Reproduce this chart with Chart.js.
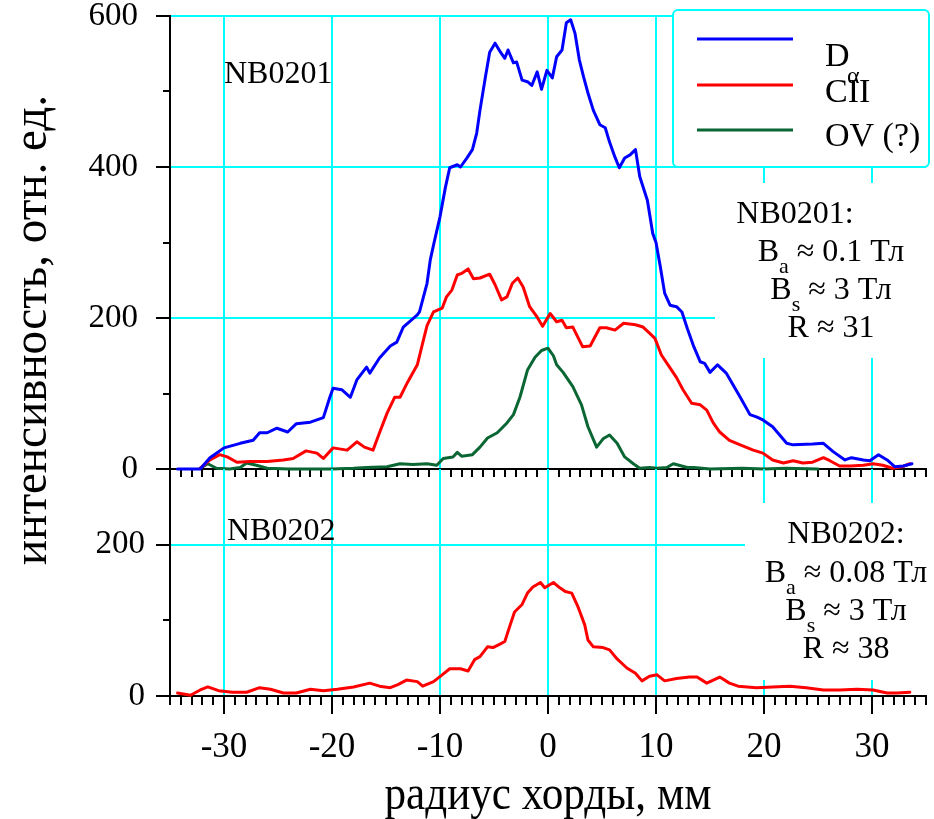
<!DOCTYPE html>
<html>
<head>
<meta charset="utf-8">
<script src="https://cdn.jsdelivr.net/npm/chart.js@4/dist/chart.umd.min.js"></script>
<style>
    html, body { margin: 0; padding: 0; background: #fff; }
    #wrap { position: relative; width: 934px; height: 819px; }
    #wrap canvas { position: absolute; left: 0; top: 0; }
</style>
</head>
<body>
<div id="wrap">
    <canvas id="topChart" width="934" height="819"></canvas>
    <canvas id="botChart" width="934" height="819"></canvas>
</div>
<script>
// ---- data (x: mm, y: rel. units) ----
// NB0201, D-alpha
const dAlphaX = [-34.3,-33,-32.2,-31.3,-30,-28.5,-27.3,-26.7,-26,-25.1,-24.1,-23.3,-22,-20.8,-20.2,-19.9,-19.1,-18.3,-17.7,-16.8,
    -16.5,-15.6,-14.6,-14,-13.4,-12.1,-11.9,-11.2,-10.9,-10.5,-10,-9.5,-9.1,-8.4,-8.1,-7.5,-7,-6.6,-6.3,-5.8,
    -5.4,-4.9,-4.4,-4,-3.7,-3.2,-2.9,-2.4,-1.9,-1.5,-1,-0.6,-0.1,0.4,0.8,1.3,1.7,2.1,2.5,2.9,
    3.3,3.7,4.2,4.8,5.3,5.7,6.2,6.6,7.1,7.6,8.1,8.5,9.2,9.7,10,10.4,10.8,11.3,11.9,12.4,
    12.9,13.5,14.1,14.5,15,15.7,16.5,17.8,18.7,19.3,19.9,20.8,22.1,22.7,24.5,25.5,26.4,27.5,28.1,29.2,
    29.8,30.6,31.4,32.1,32.9,33.7];
const dAlphaY = [0,0,0,15,28,34,38,48,48,54,49,60,62,68,95,107,105,95,118,135,
    127,147,163,168,188,204,208,246,277,303,334,373,399,403,400,412,423,445,475,519,
    552,564,552,544,555,538,539,515,513,508,526,503,528,518,546,555,591,595,577,542,
    519,498,475,456,452,433,413,399,412,416,423,387,356,312,300,268,233,217,215,208,
    186,162,142,140,128,138,127,95,72,69,65,56,34,32,33,34,23,12,15,12,
    11,19,12,3,4,7];

// NB0201, CII
const ciiX = [-32.2,-31.3,-30.4,-29.7,-28.8,-27.6,-26,-24.5,-23.6,-22.4,-21.4,-20.8,-19.9,-18.6,-17.7,-17,-16.2,-15.6,-14.9,-14.2,
    -13.7,-13,-12.1,-11.6,-11.2,-10.6,-9.8,-9.4,-8.9,-8.4,-8,-7.4,-6.9,-6.3,-5.4,-4.9,-4.3,-3.8,-3.3,-2.8,
    -2.3,-1.7,-1,-0.5,0.2,0.8,1.3,1.7,2.3,3.2,3.9,4.8,5.4,6.2,7,8.1,8.8,9.4,9.9,10.5,
    11.3,11.9,12.5,13.3,14.1,14.7,15.3,15.9,16.8,17.8,19,19.9,20.8,21.8,22.7,23.6,24.5,25.5,26.1,27,
    28,29.2,30.1,31,31.9,32.8,33.5];
const ciiY = [1,12,19,16,9,10,10,12,14,24,21,14,28,25,36,29,25,48,74,95,
    95,115,138,167,190,208,213,228,237,257,259,265,252,253,258,244,224,228,246,253,
    241,215,201,189,206,195,197,187,188,162,163,187,187,184,193,191,188,180,173,151,
    134,121,105,87,85,78,61,49,38,32,25,21,12,8,11,8,9,15,11,4,
    4,5,7,5,1,3,7];

// NB0201, OV (?)
const ovX = [-32.2,-31.5,-30.7,-29.5,-28.5,-27.9,-27,-26,-24,-20,-18,-16.8,-14.9,-13.7,-12.5,-11.2,-10.3,-9.7,-8.8,-8.4,
    -8,-7,-6.3,-5.6,-4.7,-3.8,-3.2,-2.6,-1.9,-1.2,-0.6,0,0.5,0.8,1.4,2.3,3.1,3.7,4.5,5.1,
    5.7,6.4,7.1,7.9,8.5,9.4,10.1,11,11.6,12.9,13.5,15,18,20,22,25];
const ovY = [1,7,1,0,2,8,5,1,0,0,1,2,3,7,6,7,5,14,16,22,
    17,19,29,41,48,61,72,95,131,148,157,160,150,138,128,109,85,56,29,40,
    45,34,16,7,1,2,1,2,7,2,2,0,1,0,1,0];

// NB0202, CII
const cii2X = [-34.3,-33.1,-32.2,-31.5,-30.5,-29.2,-27.9,-26.7,-25.7,-24.5,-23.3,-22,-20.8,-19.5,-18,-16.5,-15.6,-14.6,-13.9,-13.1,
    -12.1,-11.6,-10.6,-9.8,-9.1,-8.1,-7.4,-6.8,-6.3,-5.6,-5.1,-4.4,-4,-3.5,-3.1,-2.4,-1.9,-1.4,-0.7,-0.3,
    0.5,1.1,1.6,2.2,2.8,3.4,3.7,4.2,5.1,5.7,6.4,7.3,8.1,8.7,9.4,10.1,10.8,11.9,13.1,13.8,
    14.7,15.9,16.8,17.6,19.3,20.8,22.4,23.9,25.5,27,28.6,30.1,31.4,32.3,33.5];
const cii2Y = [4,1,8,12,7,5,5,11,9,4,4,9,7,9,12,17,13,11,15,21,
    19,13,19,28,36,36,33,48,52,65,64,69,72,94,111,121,136,144,150,143,
    150,143,138,136,117,94,74,65,64,61,49,37,30,20,26,28,20,23,25,25,
    17,25,17,13,11,12,13,11,8,8,9,8,4,4,5];

const xTickLabels = [-30, -20, -10, 0, 10, 20, 30];
const topYTickLabels = [0, 200, 400, 600];
const botYTickLabels = [0, 200];

const seriesNames = ['D', 'CII', 'OV (?)'];
const seriesSubs = ['α', '', ''];
const seriesColors = ['#0000ff', '#ff0000', '#0a6633'];

const xTitle = 'радиус хорды, мм';
const yTitle = 'интенсивность, отн. ед.';

const GRID = '#00ffff';
const NONE = 'rgba(0,0,0,0)';
const SERIF = "'Liberation Serif', 'Times New Roman', serif";

function pts(xs, ys) { return xs.map((x, i) => ({ x: x, y: ys[i] })); }

function lineSet(label, xs, ys, color) {
    return { label: label, data: pts(xs, ys), borderColor: color, borderWidth: 3,
             borderJoinStyle: 'round', borderCapStyle: 'round',
             pointRadius: 0, tension: 0, fill: false, clip: 4 };
}

function xScale(showLabels, tickLen, height) {
    return {
        type: 'linear', min: -35, max: 35,
        // fixed axis height; no side padding from tick labels
        afterFit: s => { s.height = height; s.paddingLeft = 0; s.paddingRight = 0; },
        ticks: {
            stepSize: 1, autoSkip: false, maxRotation: 0, minRotation: 0,
            color: '#000', padding: 22, font: { family: SERIF, size: 35 },
            callback: v => (showLabels && xTickLabels.includes(v)) ? String(v) : ''
        },
        grid: {
            color: c => xTickLabels.includes(c.tick.value) ? GRID : NONE,
            lineWidth: 2, tickColor: '#000', tickWidth: 2, tickLength: tickLen
        },
        border: { color: '#000', width: 2 }
    };
}

function yScale(max, labels, pad) {
    return {
        min: 0, max: max,
        // fixed axis width; no extra vertical padding from the label font
        afterFit: s => { s.width = 170; s.paddingTop = 0; s.paddingBottom = 0; },
        ticks: {
            stepSize: 100, color: '#000', padding: pad,
            font: { family: SERIF, size: 33, lineHeight: 0.9 },
            callback: v => labels.includes(v) ? String(v) : ''
        },
        grid: {
            color: c => (c.tick.value > 0 && labels.includes(c.tick.value)) ? GRID : NONE,
            lineWidth: 2, tickColor: '#000', tickWidth: 2, tickLength: 7
        },
        border: { color: '#000', width: 2 }
    };
}

// ---- drawing helpers ----
function majorTicks(chart, xLen, yVals) {
    const { ctx, scales: { x, y } } = chart;
    ctx.save();
    ctx.strokeStyle = '#000'; ctx.lineWidth = 2;
    ctx.beginPath();
    xTickLabels.forEach(v => {
        const px = Math.round(x.getPixelForValue(v));
        ctx.moveTo(px, x.top); ctx.lineTo(px, x.top + xLen);
    });
    yVals.forEach(v => {
        const py = Math.round(y.getPixelForValue(v));
        ctx.moveTo(y.right, py); ctx.lineTo(y.right - 14, py);
    });
    ctx.stroke();
    ctx.restore();
}

function font(size) { return size + 'px ' + SERIF; }

function plainText(ctx, s, x, y, size, align) {
    ctx.font = font(size);
    ctx.textAlign = align || 'left';
    ctx.textBaseline = 'alphabetic';
    ctx.fillStyle = '#000';
    ctx.fillText(s, x, y);
}

// "B" + subscript + rest, centred on cx
function subText(ctx, main, sub, rest, cx, base, size) {
    const small = Math.round(size * 0.68);
    ctx.font = font(size);
    const w1 = ctx.measureText(main).width, w3 = ctx.measureText(rest).width;
    ctx.font = font(small);
    const w2 = ctx.measureText(sub).width;
    let x0 = cx - (w1 + w2 + w3) / 2;
    plainText(ctx, main, x0, base, size);
    plainText(ctx, sub, x0 + w1, base + 12, small);
    plainText(ctx, rest, x0 + w1 + w2, base, size);
}

function fitText(ctx, s, cx, base, size, width, rotate) {
    ctx.save();
    ctx.translate(cx, base);
    if (rotate) ctx.rotate(-Math.PI / 2);
    ctx.font = font(size);
    const w = ctx.measureText(s).width;
    ctx.scale(width / w, 1);
    ctx.textAlign = 'center';
    ctx.textBaseline = 'alphabetic';
    ctx.fillStyle = '#000';
    ctx.fillText(s, 0, 0);
    ctx.restore();
}

function whiteBox(ctx, x, y, w, h) {
    ctx.save(); ctx.fillStyle = '#fff'; ctx.fillRect(x, y, w, h); ctx.restore();
}

const topDecor = {
    id: 'topDecor',
    beforeDatasetsDraw(chart) {
        const ctx = chart.ctx;
        whiteBox(ctx, 715, 183, 219, 175);
        // legend box
        ctx.save();
        ctx.fillStyle = '#fff';
        ctx.strokeStyle = GRID;
        ctx.lineWidth = 2;
        ctx.beginPath();
        ctx.roundRect(673, 10, 256, 157, 5);
        ctx.fill(); ctx.stroke();
        const rows = [39, 85, 130];
        chart.data.datasets.forEach((ds, i) => {
            ctx.strokeStyle = ds.borderColor;
            ctx.lineWidth = 3;
            ctx.beginPath();
            ctx.moveTo(697, rows[i]); ctx.lineTo(793, rows[i]);
            ctx.stroke();
        });
        ctx.restore();
        plainText(ctx, seriesNames[0], 825, 66, 34);
        plainText(ctx, seriesSubs[0], 847, 83, 24);
        plainText(ctx, seriesNames[1], 825, 102, 34);
        plainText(ctx, seriesNames[2], 825, 146, 34);
    },
    afterDraw(chart) {
        const ctx = chart.ctx;
        majorTicks(chart, 14, topYTickLabels);
        plainText(ctx, 'NB0201', 224, 83, 32);
        plainText(ctx, 'NB0201:', 795, 223, 32, 'center');
        subText(ctx, 'B', 'a', ' ≈ 0.1 Тл', 831, 261, 32);
        subText(ctx, 'B', 's', ' ≈ 3 Тл', 831, 299, 32);
        plainText(ctx, 'R ≈ 31', 831, 337, 32, 'center');
        fitText(ctx, yTitle, 46, 330, 48, 470, true);
    }
};

const botDecor = {
    id: 'botDecor',
    beforeDatasetsDraw(chart) {
        whiteBox(chart.ctx, 745, 503, 189, 177);
    },
    afterDraw(chart) {
        const ctx = chart.ctx;
        majorTicks(chart, 18, botYTickLabels);
        plainText(ctx, 'NB0202', 227, 540, 32);
        plainText(ctx, 'NB0202:', 846, 543, 32, 'center');
        subText(ctx, 'B', 'a', ' ≈ 0.08 Тл', 846, 582, 32);
        subText(ctx, 'B', 's', ' ≈ 3 Тл', 846, 620, 32);
        plainText(ctx, 'R ≈ 38', 846, 658, 32, 'center');
        fitText(ctx, xTitle, 548, 809, 48, 327, false);
    }
};

const baseOptions = {
    responsive: false,
    animation: false,
    plugins: { legend: { display: false }, tooltip: { enabled: false } }
};

new Chart(document.getElementById('topChart').getContext('2d'), {
    type: 'line',
    data: {
        datasets: [
            lineSet(seriesNames[0] + seriesSubs[0], dAlphaX, dAlphaY, seriesColors[0]),
            lineSet(seriesNames[1], ciiX, ciiY, seriesColors[1]),
            lineSet(seriesNames[2], ovX, ovY, seriesColors[2])
        ]
    },
    options: Object.assign({}, baseOptions, {
        layout: { padding: { top: 16, right: 8, left: 0, bottom: 0 } },
        scales: { x: xScale(false, 8, 350), y: yScale(600, topYTickLabels, 25) }
    }),
    plugins: [topDecor]
});

new Chart(document.getElementById('botChart').getContext('2d'), {
    type: 'line',
    data: {
        datasets: [ lineSet(seriesNames[1], cii2X, cii2Y, seriesColors[1]) ]
    },
    options: Object.assign({}, baseOptions, {
        layout: { padding: { top: 469, right: 8, left: 0, bottom: 0 } },
        scales: { x: xScale(true, 9, 123), y: yScale(300, botYTickLabels, 18) }
    }),
    plugins: [botDecor]
});
</script>
</body>
</html>
